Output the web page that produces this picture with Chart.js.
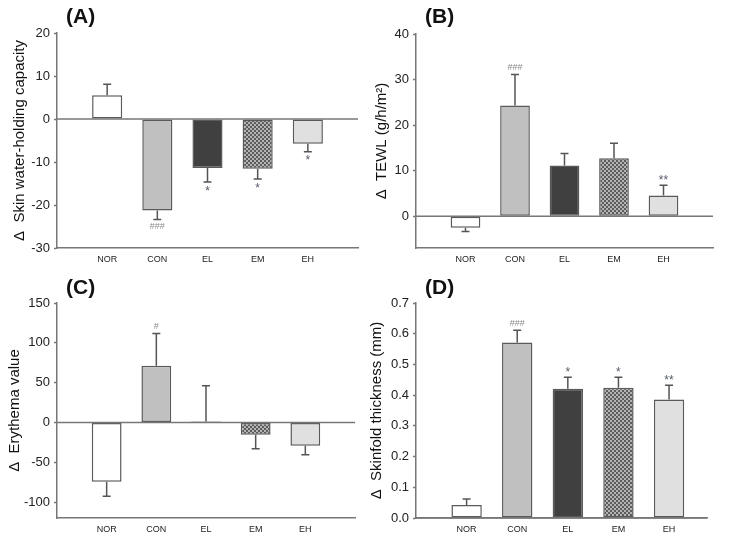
<!DOCTYPE html>
<html>
<head>
<meta charset="utf-8">
<script src="https://cdn.jsdelivr.net/npm/chart.js@4.4.0/dist/chart.umd.min.js"></script>
<style>
  body { margin: 0; background: #fff; }
  #wrap { position: relative; width: 729px; height: 543px; overflow: hidden; }
  #wrap canvas { position: absolute; }
  .tag { position: absolute; font: bold 21px "Liberation Sans", Arial, sans-serif; line-height: 21px; color: #111; }
</style>
</head>
<body>
<div id="wrap">
  <canvas id="panelA" width="364" height="272" style="left:0;top:0"></canvas>
  <canvas id="panelB" width="365" height="272" style="left:364px;top:0"></canvas>
  <canvas id="panelC" width="364" height="271" style="left:0;top:272px"></canvas>
  <canvas id="panelD" width="365" height="271" style="left:364px;top:272px"></canvas>
  <div class="tag" style="left:66px;top:5px">(A)</div>
  <div class="tag" style="left:425px;top:5px">(B)</div>
  <div class="tag" style="left:66px;top:276px">(C)</div>
  <div class="tag" style="left:425px;top:276px">(D)</div>
</div>
<script>
// groups on the x axis
const groups = ["NOR", "CON", "EL", "EM", "EH"];

// (A) skin water-holding capacity
const waterHolding = [5.5, -21.3, -11.4, -11.55, -5.75];
const waterHoldingSem = [2.6, 2.1, 3.25, 2.4, 1.85];
const waterHoldingMarks = ["", "###", "*", "*", "*"];
const waterHoldingTicks = [-30, -20, -10, 0, 10, 20];

// (B) TEWL
const tewl = [-2.55, 24.3, 11.1, 12.7, 4.55];
const tewlSem = [0.85, 6.8, 2.65, 3.3, 2.25];
const tewlMarks = ["", "###", "", "", "**"];
const tewlTicks = [0, 10, 20, 30, 40];

// (C) erythema value
const erythema = [-74.6, 71.3, 1.3, -15.5, -29.4];
const erythemaSem = [18.1, 40.3, 44.9, 17.5, 11.3];
const erythemaMarks = ["", "#", "", "", ""];
const erythemaTicks = [-100, -50, 0, 50, 100, 150];

// (D) skinfold thickness
const skinfold = [0.042, 0.571, 0.421, 0.424, 0.386];
const skinfoldSem = [0.02, 0.04, 0.037, 0.034, 0.046];
const skinfoldMarks = ["", "###", "*", "*", "**"];
const skinfoldTicks = [0, 0.1, 0.2, 0.3, 0.4, 0.5, 0.6, 0.7];

const FONT = '"Liberation Sans", Arial, sans-serif';

// checkered fill used for EM
function checkerPattern() {
  const c = document.createElement("canvas");
  c.width = 4; c.height = 4;
  const g = c.getContext("2d");
  g.fillStyle = "#b4b4b4";
  g.fillRect(0, 0, 4, 4);
  g.fillStyle = "#5c5c5c";
  g.fillRect(0, 0, 2, 2);
  g.fillRect(2, 2, 2, 2);
  return g.createPattern(c, "repeat");
}

const fills = ["#ffffff", "#c0c0c0", "#404040", checkerPattern(), "#e0e0e0"];

function makePanel(id, values, sem, marks, yTicks, yMin, yMax, xMax, title, titlePad, area, fmt) {
  const canvas = document.getElementById(id);
  const W = canvas.width, H = canvas.height;

  // zero line, error bars and significance marks
  const extras = {
    id: "extras",
    afterDatasetsDraw(chart) {
      const ctx = chart.ctx;
      const y = chart.scales.y;
      const ca = chart.chartArea;
      const meta = chart.getDatasetMeta(0);
      ctx.save();
      ctx.strokeStyle = "#777";
      ctx.lineWidth = 1.5;
      const y0 = y.getPixelForValue(0);
      ctx.beginPath();
      ctx.moveTo(ca.left, y0);
      ctx.lineTo(ca.right, y0);
      ctx.stroke();

      meta.data.forEach((bar, i) => {
        const v = values[i];
        const dir = v >= 0 ? 1 : -1;
        const yv = y.getPixelForValue(v);
        const ye = y.getPixelForValue(v + dir * sem[i]);
        ctx.strokeStyle = "#555";
        ctx.lineWidth = 1.5;
        ctx.beginPath();
        ctx.moveTo(bar.x, yv);
        ctx.lineTo(bar.x, ye);
        ctx.moveTo(bar.x - 4, ye);
        ctx.lineTo(bar.x + 4, ye);
        ctx.stroke();

        const m = marks[i];
        if (m) {
          const star = m[0] === "*";
          ctx.fillStyle = star ? "#555b66" : "#8a8a8a";
          ctx.font = (star ? "12px " : "9px ") + FONT;
          ctx.textAlign = "center";
          ctx.textBaseline = "middle";
          let ym = ye - dir * 7;
          if (star) ym += 2.5;
          ctx.fillText(m, bar.x, ym);
        }
      });
      ctx.restore();
    }
  };

  return new Chart(canvas, {
    type: "bar",
    data: {
      datasets: [{
        data: values.map((v, i) => ({ x: i + 1, y: v })),
        backgroundColor: fills,
        borderColor: "#5a5a5a",
        borderWidth: 1.5,
        borderSkipped: false,
        barPercentage: 0.6,
        categoryPercentage: 1
      }]
    },
    options: {
      responsive: false,
      animation: false,
      events: [],
      layout: { padding: { left: 0, top: area.top, right: W - area.right, bottom: 0 } },
      plugins: { legend: { display: false }, tooltip: { enabled: false } },
      scales: {
        x: {
          type: "linear",
          offset: false,
          min: 0,
          max: xMax,
          afterBuildTicks: s => { s.ticks = groups.map((g, i) => ({ value: i + 1 })); },
          afterFit: s => { s.height = H - area.bottom; },
          ticks: {
            callback: v => groups[v - 1] || "",
            font: { family: FONT, size: 9 },
            color: "#222",
            padding: 6,
            maxRotation: 0,
            autoSkip: false
          },
          grid: { display: false, drawTicks: false, offset: false },
          border: { display: true, color: "#777", width: 1.5 }
        },
        y: {
          min: yMin,
          max: yMax,
          afterBuildTicks: s => { s.ticks = yTicks.map(v => ({ value: v })); },
          afterFit: s => { s.width = area.left; },
          ticks: {
            callback: fmt,
            font: { family: FONT, size: 13 },
            color: "#222",
            padding: 4
          },
          grid: { drawOnChartArea: false, tickLength: 3, tickColor: "#777", tickWidth: 1.5 },
          border: { display: true, color: "#777", width: 1.5 },
          title: {
            display: true,
            text: title,
            font: { family: FONT, size: 15 },
            color: "#111",
            padding: { top: titlePad, bottom: 0 }
          }
        }
      }
    },
    plugins: [extras]
  });
}

const plain = v => String(v);

makePanel("panelA", waterHolding, waterHoldingSem, waterHoldingMarks, waterHoldingTicks,
  -30, 20, 6, "\u0394  Skin water-holding capacity", 11,
  { left: 57, top: 33, right: 358, bottom: 248 }, plain);

makePanel("panelB", tewl, tewlSem, tewlMarks, tewlTicks,
  -7, 40, 6, "\u0394  TEWL (g/h/m\u00b2)", 9,
  { left: 52, top: 34, right: 349, bottom: 248 }, plain);

makePanel("panelC", erythema, erythemaSem, erythemaMarks, erythemaTicks,
  -120, 150, 6, "\u0394  Erythema value", 6,
  { left: 57, top: 31, right: 355, bottom: 246 }, plain);

makePanel("panelD", skinfold, skinfoldSem, skinfoldMarks, skinfoldTicks,
  0, 0.7, 5.75, "\u0394  Skinfold thickness (mm)", 4,
  { left: 52, top: 31, right: 343, bottom: 246 }, v => v.toFixed(1));
</script>
</body>
</html>
